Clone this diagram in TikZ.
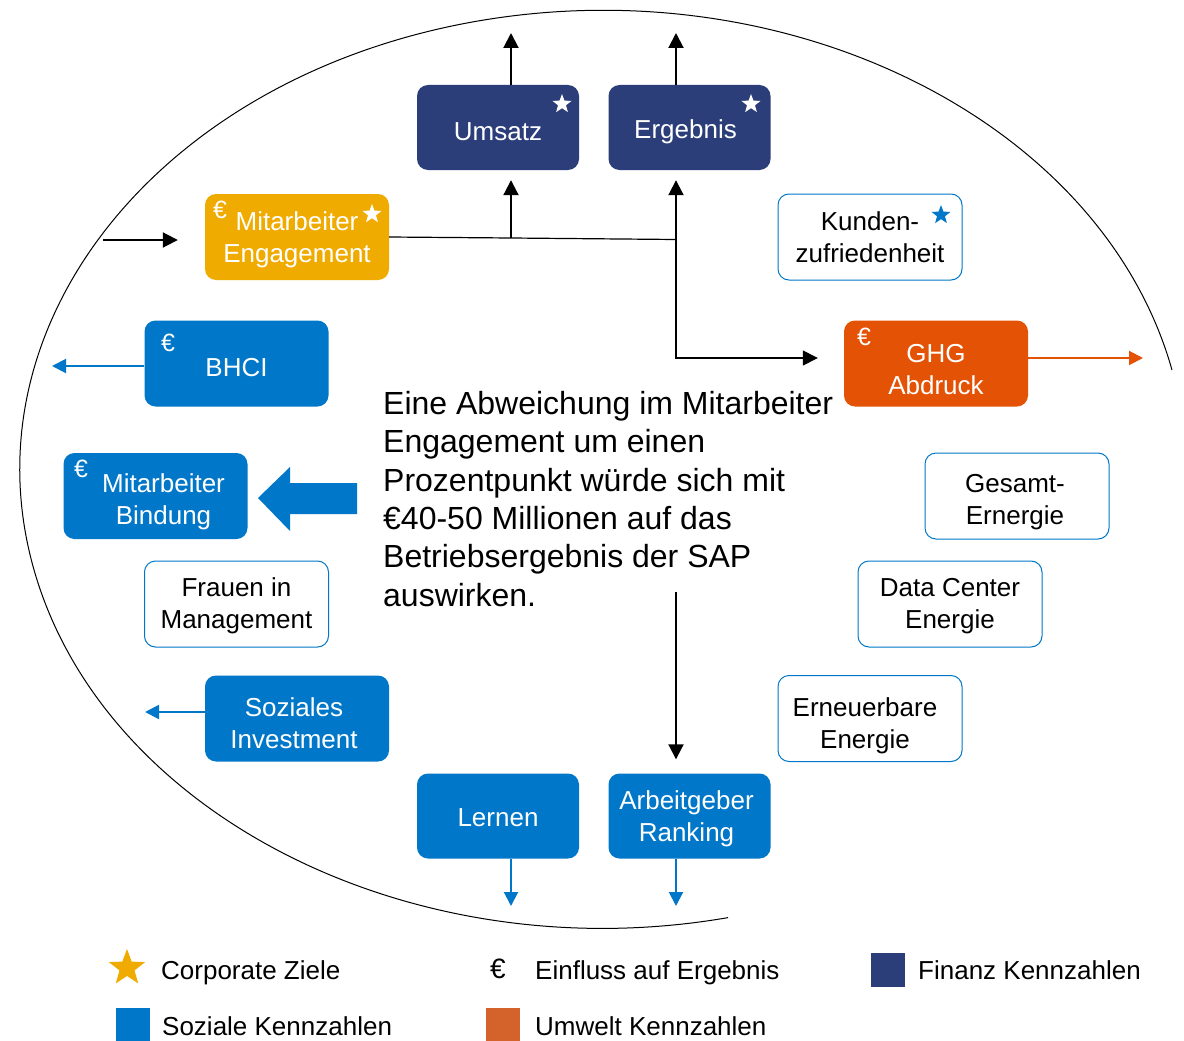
\documentclass[tikz,border=0pt]{standalone}
\usepackage{fontspec}
\setmainfont{Liberation Sans}
\usetikzlibrary{shapes.geometric,arrows.meta}
\definecolor{navy}{HTML}{2C3E7A}
\definecolor{sapblue}{HTML}{0077C8}
\definecolor{sapgold}{HTML}{F0AB00}
\definecolor{saporange}{HTML}{E35205}
\definecolor{legorange}{HTML}{D4622B}
\newcommand\dnstrut[1]{\rule{0pt}{#1pt}}
\tikzset{
  box/.style={rectangle, rounded corners=11pt, minimum width=184pt, minimum height=86pt,
    inner sep=0pt, align=center, font=\fontsize{26}{32}\selectfont},
  finbox/.style={box, fill=navy, text=white, minimum width=162pt, minimum height=85pt},
  socbox/.style={box, fill=sapblue, text=white},
  socsmall/.style={box, fill=sapblue, text=white, minimum width=162pt, minimum height=85pt},
  wbox/.style={box, fill=white, draw=sapblue, line width=1pt, text=black},
  envbox/.style={box, fill=saporange, text=white},
  engbox/.style={box, fill=sapgold, text=white},
  euro/.style={text=white, font=\fontsize{25}{25}\selectfont, inner sep=0pt},
  mystar/.style={star, star points=5, star point ratio=2.4, fill=white, minimum size=20pt, inner sep=0pt},
  blk/.style={line width=2pt, -{Triangle[width=15pt,length=15pt]}},
  blkthin/.style={line width=1.4pt, -{Triangle[width=15pt,length=15pt]}},
  thinline/.style={line width=1.2pt},
  barr/.style={sapblue, line width=2pt, -{Triangle[width=14pt,length=14pt]}},
  oarr/.style={saporange, line width=2pt, -{Triangle[width=14pt,length=14pt]}},
  legtext/.style={anchor=west, inner sep=0pt, font=\fontsize{26}{30}\selectfont},
  legsq/.style={minimum size=34pt, inner sep=0pt},
}
\begin{document}
\begin{tikzpicture}[x=1pt,y=-1pt]
\useasboundingbox (0,0) rectangle (1184,1041);
\fill[white] (0,0) rectangle (1184,1041);

% outer ellipse arc
\draw[line width=1pt] (1172,370) arc[start angle=12.5, end angle=282.4, x radius=583pt, y radius=459pt];

% finance
\node[finbox] (um) at (498,127.5) {\dnstrut{27}Umsatz};
\node[finbox] (erg) at (689.5,127.5) {\dnstrut{27}Ergebnis\hspace*{8pt}};
\node[mystar] (umstar) at (562,104) {};
\node[mystar] (ergstar) at (751,104) {};

% engagement
\node[engbox] (eng) at (297,237) {\dnstrut{25}Mitarbeiter\\Engagement};
\node[euro] (engeuro) at (220,210) {€};
\node[mystar] (engstar) at (372,214) {};

\node[wbox] (kun) at (870,237) {Kunden-\\zufriedenheit};
\node[mystar, fill=sapblue] (kunstar) at (941,215) {};

\node[socbox] (bhci) at (236.5,363.5) {\dnstrut{27}BHCI};
\node[euro] (bhcieuro) at (168,343) {€};

\node[envbox] (ghg) at (936,363.5) {\dnstrut{31}GHG\\Abdruck};
\node[euro] (ghgeuro) at (864,337) {€};

\node[socbox] (bind) at (155.5,496) {\dnstrut{31}\hspace*{16pt}Mitarbeiter\\\hspace*{16pt}Bindung};
\node[euro] (bindeuro) at (81,469) {€};

\node[wbox] (frau) at (236.5,604) {\dnstrut{23}Frauen in\\Management};
\node[socbox] (soz) at (297,718.5) {\dnstrut{29}Soziales\hspace*{6pt}\\Investment\hspace*{6pt}};

\node[wbox] (ges) at (1017,496) {\dnstrut{31}Gesamt-\hspace*{4pt}\\Ernergie\hspace*{4pt}};
\node[wbox] (dc) at (950,604) {\dnstrut{23}Data Center\\Energie};
\node[wbox] (ern) at (870,718.5) {\dnstrut{33}Erneuerbare\hspace*{10pt}\\Energie\hspace*{10pt}};

\node[socsmall] (lern) at (498,816) {\dnstrut{21}Lernen};
\node[socsmall] (arb) at (689.5,816) {\dnstrut{25}Arbeitgeber\hspace*{6pt}\\Ranking\hspace*{6pt}};

% central text
\node[anchor=north west, inner sep=0pt, align=left, font=\fontsize{32}{38.4}\selectfont] (txt) at (383,391)
  {Eine Abweichung im Mitarbeiter\\Engagement um einen\\Prozentpunkt würde sich mit\\€40-50 Millionen auf das\\Betriebsergebnis der SAP\\auswirken.};

% big blue arrow
\fill[sapblue] (258,498) -- (290,467) -- (290,483) -- (357,483) -- (357,514) -- (290,514) -- (290,531) -- cycle;

% coordinates
\coordinate (inE) at (103,240);
\coordinate (j1) at (511,238);
\coordinate (j2) at (676,239.5);
\coordinate (o1) at (511,33);
\coordinate (o2) at (676,33);
\coordinate (g1) at (676,358);
\coordinate (g3) at (1143,358);
\coordinate (b1) at (52,366);
\coordinate (s1) at (145,712);
\coordinate (l1) at (511,906);
\coordinate (a1) at (676,906);
\coordinate (t1) at (676,592);

% connectors
\draw[blk, shorten >=27pt] (inE) -- (inE -| eng.west);
\draw[blk] (um.north -| o1) -- (o1);
\draw[blk] (erg.north -| o2) -- (o2);
\draw[thinline] (eng.east) -- (j1) -- (j2);
\draw[blk, shorten >=10pt] (j1) -- (j1 |- um.south);
\draw[blk, shorten >=10pt] (j2) -- (j2 |- erg.south);
\draw[blkthin, shorten >=26pt] (j2) -- (g1) -- (g1 -| ghg.west);
\draw[oarr] (ghg.east |- g3) -- (g3);
\draw[barr] (bhci.west |- b1) -- (b1);
\draw[barr] (soz.west |- s1) -- (s1);
\draw[barr] (lern.south -| l1) -- (l1);
\draw[barr] (arb.south -| a1) -- (a1);
\draw[blk, shorten >=14pt] (t1) -- (arb.north -| t1);

% legend
\node[mystar, fill=sapgold, minimum size=38pt] (legstar) at (127,968) {};
\node[legtext] (legstart) at (161,973) {Corporate Ziele};
\node[inner sep=0pt, font=\fontsize{28}{28}\selectfont] (legeuro) at (498,969) {€};
\node[legtext] (legeurot) at (535,973) {Einfluss auf Ergebnis};
\node[legsq, fill=navy] (legfin) at (888,970) {};
\node[legtext] (legfint) at (918,970) {Finanz Kennzahlen};
\node[legsq, fill=sapblue] (legsoc) at (133,1025) {};
\node[legtext] (legsoct) at (162,1026) {Soziale Kennzahlen};
\node[legsq, fill=legorange] (legenv) at (503,1025) {};
\node[legtext] (legenvt) at (535,1026) {Umwelt Kennzahlen};
\end{tikzpicture}
\end{document}
